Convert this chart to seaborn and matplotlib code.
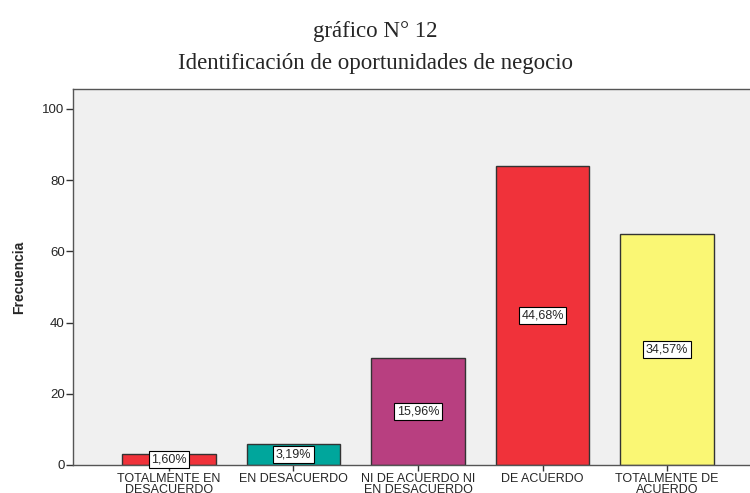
import pandas as pd
import seaborn as sns
import matplotlib.pyplot as plt

categorias = ["TOTALMENTE EN\nDESACUERDO", "EN DESACUERDO", "NI DE ACUERDO NI\nEN DESACUERDO",
              "DE ACUERDO", "TOTALMENTE DE\nACUERDO"]
frecuencias = [3, 6, 30, 84, 65]
porcentajes = ["1,60%", "3,19%", "15,96%", "44,68%", "34,57%"]
colores = ["#F0323A", "#00A69C", "#B83F80", "#F0323A", "#FAF774"]

df = pd.DataFrame({"Categoria": categorias, "Frecuencia": frecuencias})

sns.set_style("white")
plt.rcParams["font.family"] = ["Liberation Sans", "DejaVu Sans"]

fig = plt.figure(figsize=(7.5, 4.93), dpi=100)
ax = fig.add_axes([0.0973, 0.0568, 0.94, 0.7627])
ax.set_facecolor("#F0F0F0")

sns.barplot(data=df, x="Categoria", y="Frecuencia", hue="Categoria", palette=colores,
            saturation=1, width=0.75, edgecolor="#333333", linewidth=1, legend=False, ax=ax)

for i, (v, p) in enumerate(zip(frecuencias, porcentajes)):
    ax.text(i, v / 2, p, ha="center", va="center", fontsize=9,
            bbox=dict(boxstyle="square,pad=0.2", fc="white", ec="black", lw=0.8))

ax.set_ylim(0, 105.6)
ax.set_xlim(-0.77, 4.89)
ax.set_yticks([0, 20, 40, 60, 80, 100])
ax.tick_params(axis="y", left=True, length=5, width=1, labelsize=9.5, color="#333333", pad=1)
ax.tick_params(axis="x", bottom=True, length=4, width=1, labelsize=9, color="#333333", pad=2)
for lbl in ax.get_xticklabels():
    lbl.set_linespacing(0.85)
ax.set_xlabel("")
ax.set_ylabel("Frecuencia", fontsize=10, fontweight="bold", labelpad=12)
for s in ax.spines.values():
    s.set_color("#555555")
    s.set_linewidth(1)

fig.text(0.5, 0.937, "gráfico N° 12", ha="center", va="center",
         family="Liberation Serif", fontsize=16.5)
fig.text(0.5, 0.872, "Identificación de oportunidades de negocio", ha="center", va="center",
         family="Liberation Serif", fontsize=16.5)

fig.savefig("out.png", dpi=100)
